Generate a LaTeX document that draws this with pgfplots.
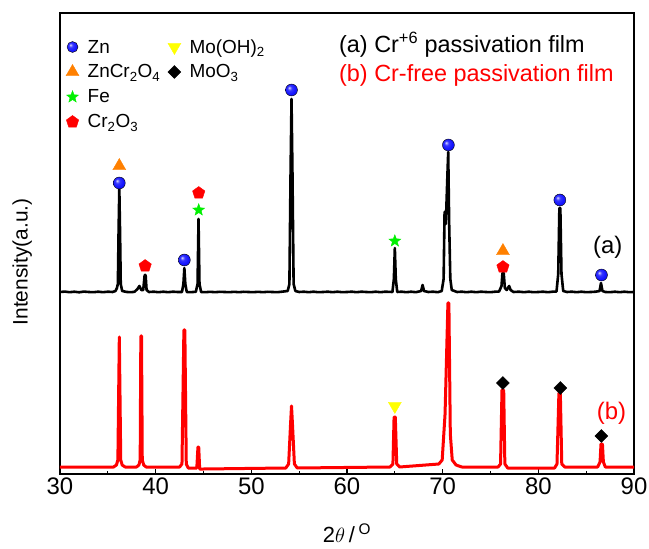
\documentclass[border=0pt]{standalone}
\usepackage{pgfplots}
\pgfplotsset{compat=1.18}
\usepackage{fontspec}
\setmainfont{Liberation Sans}
\usetikzlibrary{plotmarks}
\definecolor{myorange}{RGB}{255,128,0}
\definecolor{mygreen}{RGB}{0,240,0}
\definecolor{myyellow}{RGB}{255,255,0}
\definecolor{myred}{RGB}{255,0,0}
\definecolor{myblue}{RGB}{20,20,255}
\makeatletter
\pgfdeclareradialshading[tikz@ball]{ball}{\pgfqpoint{-10bp}{10bp}}{%
  color(0bp)=(tikz@ball!15!white); color(9bp)=(tikz@ball!85!white);
  color(22bp)=(tikz@ball); color(40bp)=(tikz@ball!85!black); color(50bp)=(tikz@ball!70!black)}
\makeatother
\pgfdeclareplotmark{fstar}{%
  \pgfpathmoveto{\pgfpointpolar{90}{\pgfplotmarksize}}%
  \pgfpathlineto{\pgfpointpolar{126}{0.42\pgfplotmarksize}}%
  \pgfpathlineto{\pgfpointpolar{162}{\pgfplotmarksize}}%
  \pgfpathlineto{\pgfpointpolar{198}{0.42\pgfplotmarksize}}%
  \pgfpathlineto{\pgfpointpolar{234}{\pgfplotmarksize}}%
  \pgfpathlineto{\pgfpointpolar{270}{0.42\pgfplotmarksize}}%
  \pgfpathlineto{\pgfpointpolar{306}{\pgfplotmarksize}}%
  \pgfpathlineto{\pgfpointpolar{342}{0.42\pgfplotmarksize}}%
  \pgfpathlineto{\pgfpointpolar{18}{\pgfplotmarksize}}%
  \pgfpathlineto{\pgfpointpolar{54}{0.42\pgfplotmarksize}}%
  \pgfpathclose
  \pgfusepathqfillstroke
}
\begin{document}
\begin{tikzpicture}
\begin{axis}[
  width=574bp, height=461bp, scale only axis,
  xmin=30, xmax=90, ymin=0, ymax=461,
  xtick={30,40,...,90}, minor x tick num=1,
  ytick=\empty,
  xtick pos=bottom, tick align=inside,
  major tick length=5bp, minor tick length=3bp,
  axis line style={line width=1.3bp},
  every tick/.style={black, line width=1.2bp},
  /pgf/number format/assume math mode=true,
  ticklabel style={font=\fontsize{24}{24}\selectfont},
  xlabel={2$\theta$\,/\,\textsuperscript{O}},
  xlabel style={font=\fontsize{22}{22}\selectfont, at={(axis description cs:0.5,-0.128)}, anchor=center},
  ylabel={Intensity(a.u.)},
  ylabel style={font=\fontsize{21}{21}\selectfont, at={(axis description cs:-0.066,0.46)}, anchor=center, rotate=0},
  legend columns=2,
  legend cell align=left,
  legend image code/.code={\path (0bp,0bp) (17bp,0bp); \draw[#1] plot coordinates {(8bp,0bp)};},
  legend style={at={(axis description cs:0.002,0.957)}, anchor=north west, draw=none, fill=none,
    font=\fontsize{19}{19}\selectfont, column sep=4bp, row sep=1bp,
    nodes={text height=16bp, text depth=4bp}},
]
\addlegendimage{mark=ball, mark size=5.5, mark options={ball color=myblue}}
\addlegendentry{Zn}
\addlegendimage{mark=triangle*, mark size=7.5, myyellow, mark options={rotate=180}}
\addlegendentry{Mo(OH)\textsubscript{2}}
\addlegendimage{mark=triangle*, mark size=7.5, myorange}
\addlegendentry{ZnCr\textsubscript{2}O\textsubscript{4}}
\addlegendimage{mark=square*, mark size=4.6, black, mark options={rotate=45}}
\addlegendentry{MoO\textsubscript{3}}
\addlegendimage{mark=fstar, mark size=6.3, mygreen}
\addlegendentry{Fe}
\addlegendimage{empty legend}
\addlegendentry{}
\addlegendimage{mark=pentagon*, mark size=6.5, myred}
\addlegendentry{Cr\textsubscript{2}O\textsubscript{3}}

% (a) Cr+6 passivation film pattern
\addplot[black, line width=2.6bp, line join=round, forget plot] coordinates {
(30,182)(30.5,182.4)(31,181.8)(31.5,182.3)(32,181.7)(32.5,182.4)(33,182)(33.5,181.8)(34,182.3)(34.5,181.8)(35,182.3)(35.5,182)
(35.8,183)(35.95,186)(36.05,190)(36.12,240)(36.2,286)(36.28,240)(36.35,190)(36.5,183)(37,182)(37.5,181.8)
(37.8,182.3)(38.1,185)(38.3,188)(38.5,184)(38.7,184)(38.85,199)(38.95,199)(39.05,184)(39.3,182)(39.8,182.3)
(40.3,181.8)(40.8,182.3)(41.3,181.8)(41.8,182.3)(42.3,182)(42.75,182)(42.9,190)(43.0,206)(43.1,190)(43.25,182)
(43.7,181.8)(44.2,182.3)(44.38,190)(44.48,255)(44.58,190)(44.75,182)(45.2,181.8)(45.7,182.2)(46.2,181.8)
(46.7,182.2)(47.2,182)(47.7,181.8)(48.2,182.2)(48.7,181.8)(49.2,182.2)(49.7,182)(50.2,181.8)(50.7,182.2)
(51.2,181.8)(51.7,182.2)(52.2,182)(52.7,181.8)(53.2,182.3)(53.8,183)(53.98,190)(54.1,300)(54.2,375)(54.3,300)
(54.42,190)(54.6,183)(55,182)(55.5,182.3)(56,181.8)(56.5,182.3)(57,181.8)(57.5,182)(58,182.3)(58.5,181.8)
(59,182.3)(59.5,181.8)(60,182)(60.5,182.3)(61,181.8)(61.5,182.3)(62,182)(62.5,181.8)(63,182.3)(63.5,181.8)
(64,182.3)(64.75,182)(64.9,195)(65.0,226)(65.1,195)(65.25,182)(65.7,182.3)(66.2,181.8)(66.7,182.3)(67.2,181.8)
(67.75,183)(67.9,189)(68.05,183)(68.5,182)(69,182.3)(69.5,181.8)(69.9,183)(70.1,195)(70.2,262)(70.33,250)
(70.5,300)(70.58,322)(70.68,250)(70.8,195)(70.95,184)(71.5,182)(72,182.3)(72.5,181.8)(73,182.3)(73.5,181.8)
(74,182.3)(74.5,182)(75,181.8)(75.5,182.3)(75.9,182.5)(76.15,188)(76.25,201)(76.38,201)(76.5,186)(76.7,184)
(76.95,188)(77.1,184)(77.4,182)(78,182.3)(78.5,181.8)(79,182.3)(79.5,181.8)(80,182)(80.5,182.3)(81,181.8)
(81.5,182.3)(81.9,182.5)(82.08,200)(82.2,266)(82.3,266)(82.42,200)(82.6,183)(83,182)(83.5,182.3)(84,181.8)
(84.5,182.3)(85,181.8)(85.5,182)(86,182.3)(86.4,183)(86.55,191)(86.7,183)(87,182)(87.5,181.8)(88,182.3)
(88.5,181.8)(89,182.3)(89.5,181.8)(90,182)
};

% (b) Cr-free passivation film pattern
\addplot[myred, line width=3bp, line join=round, forget plot] coordinates {
(30,7)(35.6,7)(35.9,9)(36.05,14)(36.13,80)(36.2,137)(36.27,80)(36.35,14)(36.5,9)(36.8,7)
(38.0,7)(38.25,9)(38.38,14)(38.45,138)(38.52,138)(38.6,14)(38.75,9)(39.0,7)
(42.5,7)(42.75,10)(42.95,144)(43.05,144)(43.2,10)(43.4,6)(44.3,6)(44.42,27)(44.5,27)(44.6,5)(45,5)
(53.6,6)(53.9,10)(54.1,50)(54.2,68)(54.3,50)(54.5,10)(54.8,6)
(64.5,7)(64.8,10)(64.92,57)(65.05,57)(65.2,10)(65.5,7)
(69.6,10)(69.95,14)(70.25,60)(70.55,171)(70.65,171)(70.8,40)(71.0,14)(71.4,9)(72,7)
(75.8,7)(76.05,10)(76.2,84)(76.38,84)(76.5,10)(76.8,6)
(81.7,6)(81.95,10)(82.15,81)(82.3,81)(82.45,10)(82.75,7)
(86.2,7)(86.45,12)(86.55,30)(86.7,30)(86.8,12)(87,7)(90,7)
};

% phase markers
\addplot[only marks, forget plot, mark=ball, mark size=6, mark options={ball color=myblue}] coordinates {
(36.2,291)(43.0,214)(54.2,384)(70.6,329)(82.25,274)(86.6,199)};
\addplot[only marks, forget plot, mark=triangle*, mark size=7.5, myorange] coordinates {
(36.2,308)(76.3,223)};
\addplot[only marks, forget plot, mark=fstar, mark size=6.3, mygreen] coordinates {
(44.5,264)(65.0,233)};
\addplot[only marks, forget plot, mark=pentagon*, mark size=6.5, myred] coordinates {
(38.9,208)(44.5,281)(76.3,207)};
\addplot[only marks, forget plot, mark=triangle*, mark size=7.5, myyellow, mark options={rotate=180}] coordinates {
(65.0,68)};
\addplot[only marks, forget plot, mark=square*, mark size=4.6, black, mark options={rotate=45}] coordinates {
(76.3,91)(82.3,86)(86.6,38)};

\node[anchor=base west, inner sep=0pt, font=\fontsize{23.5}{23.5}\selectfont] at (axis cs:59.16,421) {(a) Cr\textsuperscript{+6} passivation film};
\node[anchor=base west, inner sep=0pt, text=myred, font=\fontsize{23.5}{23.5}\selectfont] at (axis cs:59.16,392) {(b) Cr-free passivation film};
\node[anchor=base west, inner sep=0pt, font=\fontsize{24}{24}\selectfont] at (axis cs:85.7,220) {(a)};
\node[anchor=base west, inner sep=0pt, text=myred, font=\fontsize{24}{24}\selectfont] at (axis cs:86.1,55) {(b)};
\end{axis}
\pgfresetboundingbox
\path ([xshift=-60bp,yshift=-75bp]current axis.south west) rectangle ([xshift=15bp,yshift=13bp]current axis.north east);
\end{tikzpicture}
\end{document}
